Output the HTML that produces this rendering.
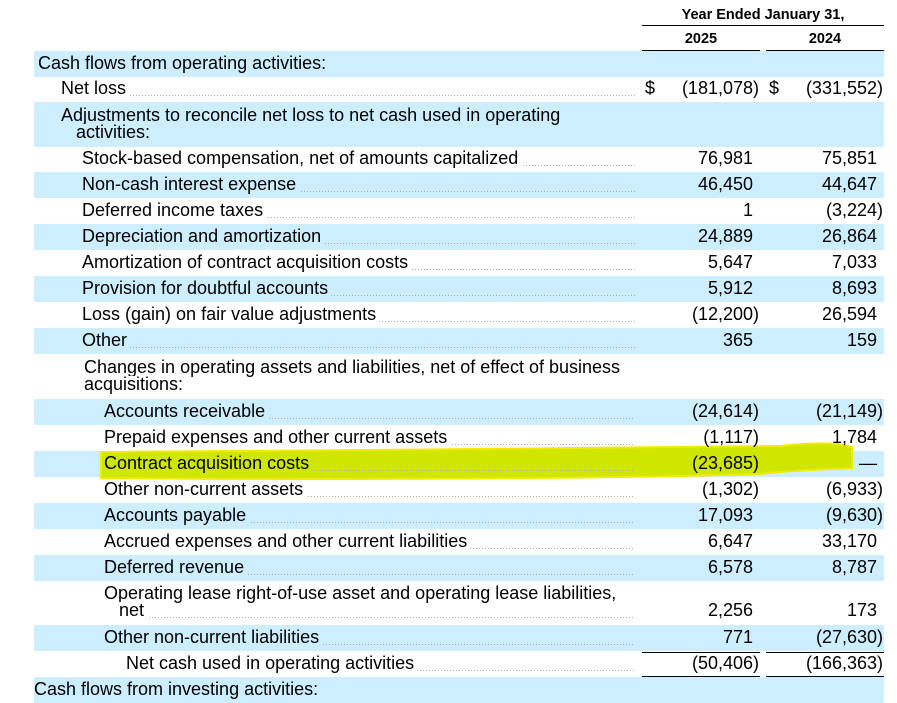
<!DOCTYPE html>
<html><head><meta charset="utf-8">
<style>
html,body{margin:0;padding:0;background:#fff;}
body{width:897px;height:685px;position:relative;overflow:hidden;font-family:"Liberation Sans",Arial,sans-serif;font-size:18px;color:#000;}
.row{position:absolute;left:34px;width:850px;}
.sh{background:#cceeff;}
.t{position:absolute;white-space:nowrap;line-height:17px;z-index:3;}
.lead{position:absolute;height:1px;background:repeating-linear-gradient(90deg,#aaa 0 1px,transparent 1px 3px);z-index:3;}
.lab{position:absolute;white-space:nowrap;line-height:17px;padding-right:3px;z-index:3;}
.v{position:absolute;text-align:right;white-space:nowrap;line-height:17px;z-index:3;}
.h{visibility:hidden;}
.ln{position:absolute;height:0;border-top:1.5px solid #000;}
.hd{position:absolute;font-weight:bold;font-size:14.5px;text-align:center;}
</style></head>
<body>
<div class="hd" style="left:642px;width:242px;top:7px;">Year Ended January 31,</div>
<div class="ln" style="left:642px;width:242px;top:25px;"></div>
<div class="hd" style="left:642px;width:118px;top:31px;">2025</div>
<div class="hd" style="left:766px;width:118px;top:31px;">2024</div>
<div class="ln" style="left:642px;width:118px;top:50px;"></div>
<div class="ln" style="left:766px;width:118px;top:50px;"></div>
<div id="tbl"></div>
<svg width="897" height="685" style="position:absolute;left:0;top:0;z-index:2;pointer-events:none;">
<path d="M101,452 C300,450 600,449 780,446 C815,442 840,443 852,447 L852,468 C820,470 790,470 760,474 C600,479 300,480 101,478 Z" fill="#cfe600" stroke="#f2ea00" stroke-width="2"/>
</svg>
<div class="ln" style="left:642px;width:118px;top:652px;"></div>
<div class="ln" style="left:766px;width:118px;top:652px;"></div>
<div class="ln" style="left:642px;width:118px;top:676px;"></div>
<div class="ln" style="left:766px;width:118px;top:676px;"></div>
<script>
// [top, height, shaded, indentX, lines, v2025, v2024, dollar, lead]
var rows=[
[51,26,1,38,["Cash flows from operating activities:"],"","",0,0],
[77,25,0,61,["Net loss"],"(181,078)","(331,552)",1,1],
[102,45,1,61,["Adjustments to reconcile net loss to net cash used in operating","   activities:"],"","",0,0],
[147,25,0,82,["Stock-based compensation, net of amounts capitalized"],"76,981","75,851",0,1],
[172,26,1,82,["Non-cash interest expense"],"46,450","44,647",0,1],
[198,26,0,82,["Deferred income taxes"],"1","(3,224)",0,1],
[224,26,1,82,["Depreciation and amortization"],"24,889","26,864",0,1],
[250,26,0,82,["Amortization of contract acquisition costs"],"5,647","7,033",0,1],
[276,26,1,82,["Provision for doubtful accounts"],"5,912","8,693",0,1],
[302,26,0,82,["Loss (gain) on fair value adjustments"],"(12,200)","26,594",0,1],
[328,26,1,82,["Other"],"365","159",0,1],
[354,45,0,84,["Changes in operating assets and liabilities, net of effect of business","acquisitions:"],"","",0,0],
[399,26,1,104,["Accounts receivable"],"(24,614)","(21,149)",0,1],
[425,26,0,104,["Prepaid expenses and other current assets"],"(1,117)","1,784",0,1],
[451,26,1,104,["Contract acquisition costs"],"(23,685)","\u2014",0,1],
[477,26,0,104,["Other non-current assets"],"(1,302)","(6,933)",0,1],
[503,26,1,104,["Accounts payable"],"17,093","(9,630)",0,1],
[529,26,0,104,["Accrued expenses and other current liabilities"],"6,647","33,170",0,1],
[555,26,1,104,["Deferred revenue"],"6,578","8,787",0,1],
[581,44,0,104,["Operating lease right-of-use asset and operating lease liabilities,","   net"],"2,256","173",0,1],
[625,26,1,104,["Other non-current liabilities"],"771","(27,630)",0,1],
[651,26,0,126,["Net cash used in operating activities"],"(50,406)","(166,363)",0,1],
[677,26,1,34,["Cash flows from investing activities:"],"","",0,0]
];
var tbl=document.getElementById('tbl');
function val(s,right){
  var d=document.createElement('div');
  d.className='v';
  var paren=s.charAt(s.length-1)===')';
  d.innerHTML=paren?s:s+'<span class="h">)</span>';
  d.style.right=(897-right)+'px';
  return d;
}
rows.forEach(function(r,i){
  var top=r[0],h=r[1];
  var bg=document.createElement('div');
  bg.className='row'+(r[2]?' sh':'');
  
  
  bg.style.top=top+'px';bg.style.height=h+'px';
  tbl.appendChild(bg);
  var n=r[4].length;
  var lastY=top+(h-17)/2+(n-1)*8.5-1;
  var firstY=lastY-(n-1)*17;
  var hl=(r[4][0]==="Contract acquisition costs");
  if(r[8]){
    var ld=document.createElement('div');
    ld.className='lead';
    
    
    ld.style.left=r[3]+'px';ld.style.width=(635-r[3])+'px';ld.style.top=(lastY+15)+'px';
    tbl.appendChild(ld);
  }
  r[4].forEach(function(t,j){
    var s=document.createElement('div');
    s.className='lab';
    
    
    s.style.left=r[3]+'px';s.style.top=(firstY+j*17)+'px';
    s.style.background=hl?'#cfe600':(r[2]?'#cceeff':'#fff');
    s.style.whiteSpace='pre';
    s.textContent=t;
    tbl.appendChild(s);
  });
  if(r[5]){
    var a=val(r[5],759);
    
    
    a.style.top=lastY+'px';tbl.appendChild(a);
  }
  if(r[6]){
    var b=val(r[6],883);
    
    
    b.style.top=lastY+'px';tbl.appendChild(b);
  }
  if(r[7]){
    [645,769].forEach(function(x){
      var d=document.createElement('div');
      d.className='t';
      
      
      d.style.left=x+'px';d.style.top=lastY+'px';d.textContent='$';
      tbl.appendChild(d);
    });
  }
});
</script>
</body></html>
